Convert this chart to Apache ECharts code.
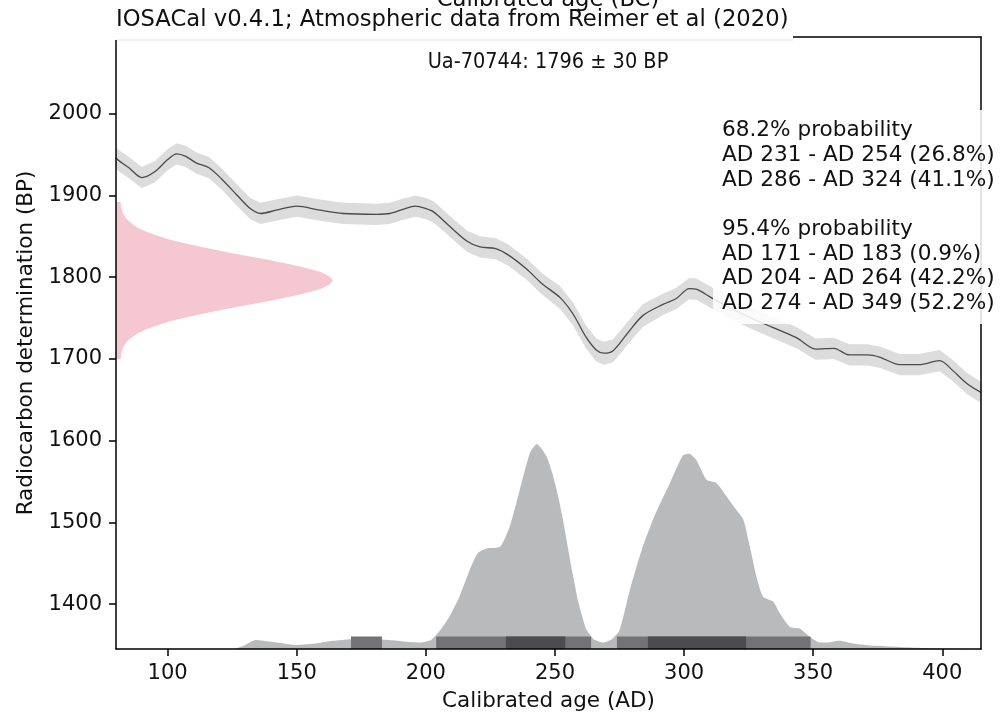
<!DOCTYPE html>
<html><head><meta charset="utf-8">
<script src="https://cdn.jsdelivr.net/npm/echarts@6/dist/echarts.min.js"></script>
<style>html,body{margin:0;padding:0;background:#fff}#c{width:1005px;height:717px}</style>
</head><body><div id="c"></div>
<script>
// Calibration curve (IntCal20 atmospheric), calendar year AD vs radiocarbon age BP
const curveYears = [80,81,85,90,95,100,103.5,107,111,116,121,127,132,136,142,150,159,168,181,186,191,196,200,203,209,216,221,227,232,239,245,252,257,262,266,269,272.5,278,284,292,297,302,305,310,318,326,334,343.5,351,358,364,371,376,383.5,391,399,404,409.5,415];
const curveBP = [1946,1943,1934,1922,1929,1944,1951,1948,1940,1934,1920,1900,1884,1878,1882,1887,1882,1878,1877,1878,1883,1887,1884,1880,1863,1844,1837,1835,1827,1810,1792,1775,1755,1727,1711,1707,1710,1731,1753,1767,1774,1786,1785,1776,1762,1750,1739,1726,1712,1713,1705,1705,1702,1693,1693,1698,1686,1670,1659];
const curveErr = [13,13,13,13,13,13,13,13,13,13,13,13,13,13,13,13,13,13,13,13,13,13,13,13,13,13,13,13,13,13,13,14,14,14,14,14,14,14,14,13,13,13,13,13,13,13,13,13,13,13,13,13,13,13,13,13,13,13,13];

// Measured radiocarbon determination (Ua-70744: 1796 ± 30 BP), relative density
const measBP = [1700,1701,1706,1711,1716,1721,1726,1731,1736,1741,1746,1751,1756,1761,1766,1771,1776,1781,1786,1791,1796,1801,1806,1811,1816,1821,1826,1831,1836,1841,1846,1851,1856,1861,1866,1871,1876,1881,1886,1891,1892];
const measDensity = [1.8,1.8,2.0,2.4,3.1,4.2,5.9,8.3,11.6,15.8,21.0,27.4,34.6,42.6,51.0,59.4,67.3,74.1,79.5,82.8,84,82.8,79.5,74.1,67.3,59.4,51.0,42.6,34.6,27.4,21.0,15.8,11.6,8.3,5.9,4.2,3.1,2.4,2.0,1.8,1.8];

// Calibrated probability distribution (relative density)
const probYears = [126,130,134,140,150,158,164,171,180,186,192,198,202,205.5,209,213,217,220,223.5,228.7,232.5,236.4,240.3,243,246.7,249,251,253,255,257,259,262,265,268.7,272,275,279,284,289,294.5,299.6,302,304.8,308.7,312.6,316.4,320.3,323,325.5,328,330.6,334.5,337,341,344.8,348.7,352.5,356,360,365,370,380,390,400,410];
const probDensity = [0,5,11,9,5,7,10,12,12,11,9,8,11,23,39,64,97,117,123,125,150,195,240,251,236,215,190,160,124,90,58,25,12,8,12,23,72,125,166,203,237,239,231,207,203,187,170,158,125,89,64,58,44,27,25,15,8,8,10,7,5,3,1.5,0.5,0];

// Highest probability ranges
const range95 = [[171,183],[204,264],[274,349]];
const range68 = [[231,254],[286,324]];
const lines68 = ['68.2% probability','AD 231 - AD 254 (26.8%)','AD 286 - AD 324 (41.1%)'];
const lines95 = ['95.4% probability','AD 171 - AD 183 (0.9%)','AD 204 - AD 264 (42.2%)','AD 274 - AD 349 (52.2%)'];

const xTicks = [100,150,200,250,300,350,400];
const yTicks = [1400,1500,1600,1700,1800,1900,2000];

const FONT = 'DejaVu Sans';
const FS = 21;
const TXT = '#111';
const chart = echarts.init(document.getElementById('c'), null, {renderer:'canvas'});

const axisLineStyle = {color:'#000', width:1.5};

function txt(x, y, s, align, size, sx) {
  return {type:'text', x:x, y:y, z:100, silent:true, scaleX: sx || 1,
    style:{text:s, font: (size||FS)+'px "'+FONT+'"', fill:TXT, align:align||'left', verticalAlign:'middle',
      textAlign:align||'left', textVerticalAlign:'middle'}};
}

const probLines = [];
const lineStep = 24.7;
lines68.forEach((s,i)=>probLines.push(txt(722, 130.5 + i*lineStep, s, 'left', 21.6)));
lines95.forEach((s,i)=>probLines.push(txt(722, 130.5 + (i+4)*lineStep, s, 'left', 21.6)));

chart.setOption({
  animation:false,
  backgroundColor:'#fff',
  grid:{left:116, top:37, right:24, bottom:68, containLabel:false},
  xAxis:[
    {type:'value', min:80, max:415, position:'bottom', z:10,
     axisLine:{show:true, onZero:false, lineStyle:axisLineStyle},
     axisTick:{show:true, customValues:xTicks, length:7, lineStyle:{color:'#000', width:1.5}},
     axisLabel:{customValues:xTicks, fontSize:FS, fontFamily:FONT, color:TXT, margin:14,
       formatter:(v)=>String(v)},
     splitLine:{show:false},
     name:'Calibrated age (AD)', nameLocation:'middle', nameGap:41,
     nameTextStyle:{fontSize:21.5, fontFamily:FONT, color:TXT}},
    {type:'value', min:0, max:335, position:'top', z:10,
     axisLine:{show:true, onZero:false, lineStyle:axisLineStyle},
     axisTick:{show:false}, axisLabel:{show:false}, splitLine:{show:false}}
  ],
  yAxis:[
    {type:'value', min:1345, max:2094, position:'left', z:10,
     axisLine:{show:true, onZero:false, lineStyle:axisLineStyle},
     axisTick:{show:true, customValues:yTicks, length:7, lineStyle:{color:'#000', width:1.5}},
     axisLabel:{customValues:yTicks, fontSize:FS, fontFamily:FONT, color:TXT, margin:14,
       formatter:(v)=>String(v)},
     splitLine:{show:false},
     name:'Radiocarbon determination (BP)', nameLocation:'middle', nameGap:79, nameRotate:90,
     nameTextStyle:{fontSize:21.5, fontFamily:FONT, color:TXT}},
    {type:'value', min:0, max:749, position:'right', z:10,
     axisLine:{show:true, onZero:false, lineStyle:axisLineStyle},
     axisTick:{show:false}, axisLabel:{show:false}, splitLine:{show:false}}
  ],
  series:[
    {type:'custom', xAxisIndex:0, yAxisIndex:0, clip:true, silent:true, z:2,
     data: curveYears.map((x,i)=>[x, curveBP[i]]),
     renderItem:(params, api)=>{
       if (params.dataIndex !== 0) return null;
       const pts = [];
       for (let i=0;i<curveYears.length;i++) pts.push(api.coord([curveYears[i], curveBP[i]+curveErr[i]]));
       for (let i=curveYears.length-1;i>=0;i--) pts.push(api.coord([curveYears[i], curveBP[i]-curveErr[i]]));
       return {type:'polygon', shape:{points:pts, smooth:0}, style:{fill:'#dcdcdc'}};
     }},
    {type:'line', xAxisIndex:0, yAxisIndex:0, showSymbol:false, smooth:0.3, silent:true, z:3,
     data: curveYears.map((x,i)=>[x, curveBP[i]]),
     lineStyle:{color:'#4a4a4a', width:1.3}},
    {type:'custom', xAxisIndex:1, yAxisIndex:0, clip:true, silent:true, z:2,
     data: measBP.map((b,i)=>[measDensity[i], b]),
     renderItem:(params, api)=>{
       if (params.dataIndex !== 0) return null;
       const pts = [api.coord([0, measBP[0]])];
       for (let i=0;i<measBP.length;i++) pts.push(api.coord([measDensity[i], measBP[i]]));
       pts.push(api.coord([0, measBP[measBP.length-1]]));
       return {type:'polygon', shape:{points:pts}, style:{fill:'#f5c7d1'}};
     }},
    {type:'line', xAxisIndex:0, yAxisIndex:1, showSymbol:false, smooth:0.2, silent:true, z:2,
     data: probYears.map((x,i)=>[x, probDensity[i]]),
     lineStyle:{width:0, color:'#b9babc'}, areaStyle:{color:'#b9babc', opacity:1}},
    {type:'custom', xAxisIndex:0, yAxisIndex:1, clip:true, silent:true, z:4,
     data: range95,
     renderItem:(params, api)=>{
       const a = api.coord([api.value(0), 0]);
       const b = api.coord([api.value(1), 15.3]);
       return {type:'rect', shape:{x:a[0], y:b[1], width:b[0]-a[0], height:a[1]-b[1]}, style:{fill:'#737375'}};
     }},
    {type:'custom', xAxisIndex:0, yAxisIndex:1, clip:true, silent:true, z:5,
     data: range68,
     renderItem:(params, api)=>{
       const a = api.coord([api.value(0), 0]);
       const b = api.coord([api.value(1), 15.3]);
       return {type:'rect', shape:{x:a[0], y:b[1], width:b[0]-a[0], height:a[1]-b[1]}, style:{fill:'#4c4c4e'}};
     }}
  ],
  graphic:[
    {type:'rect', z:90, silent:true, shape:{x:713, y:110, width:300, height:214},
     style:{fill:'rgba(255,255,255,0.86)'}},
    {type:'rect', z:90, silent:true, shape:{x:112, y:-2, width:681, height:42},
     style:{fill:'#fff'}},
    {type:'line', z:91, silent:true, shape:{x1:116, y1:40, x2:793, y2:40},
     style:{stroke:'rgba(0,0,0,0.10)', lineWidth:1}},
    txt(548, 0, 'Calibrated age (BC)', 'center', 22.7),
    txt(116, 20, 'IOSACal v0.4.1; Atmospheric data from Reimer et al (2020)', 'left', 22.7),
    txt(548, 63, 'Ua-70744: 1796 \u00b1 30 BP', 'center', 20.8, 0.93)
  ].concat(probLines)
});
</script>
</body></html>
